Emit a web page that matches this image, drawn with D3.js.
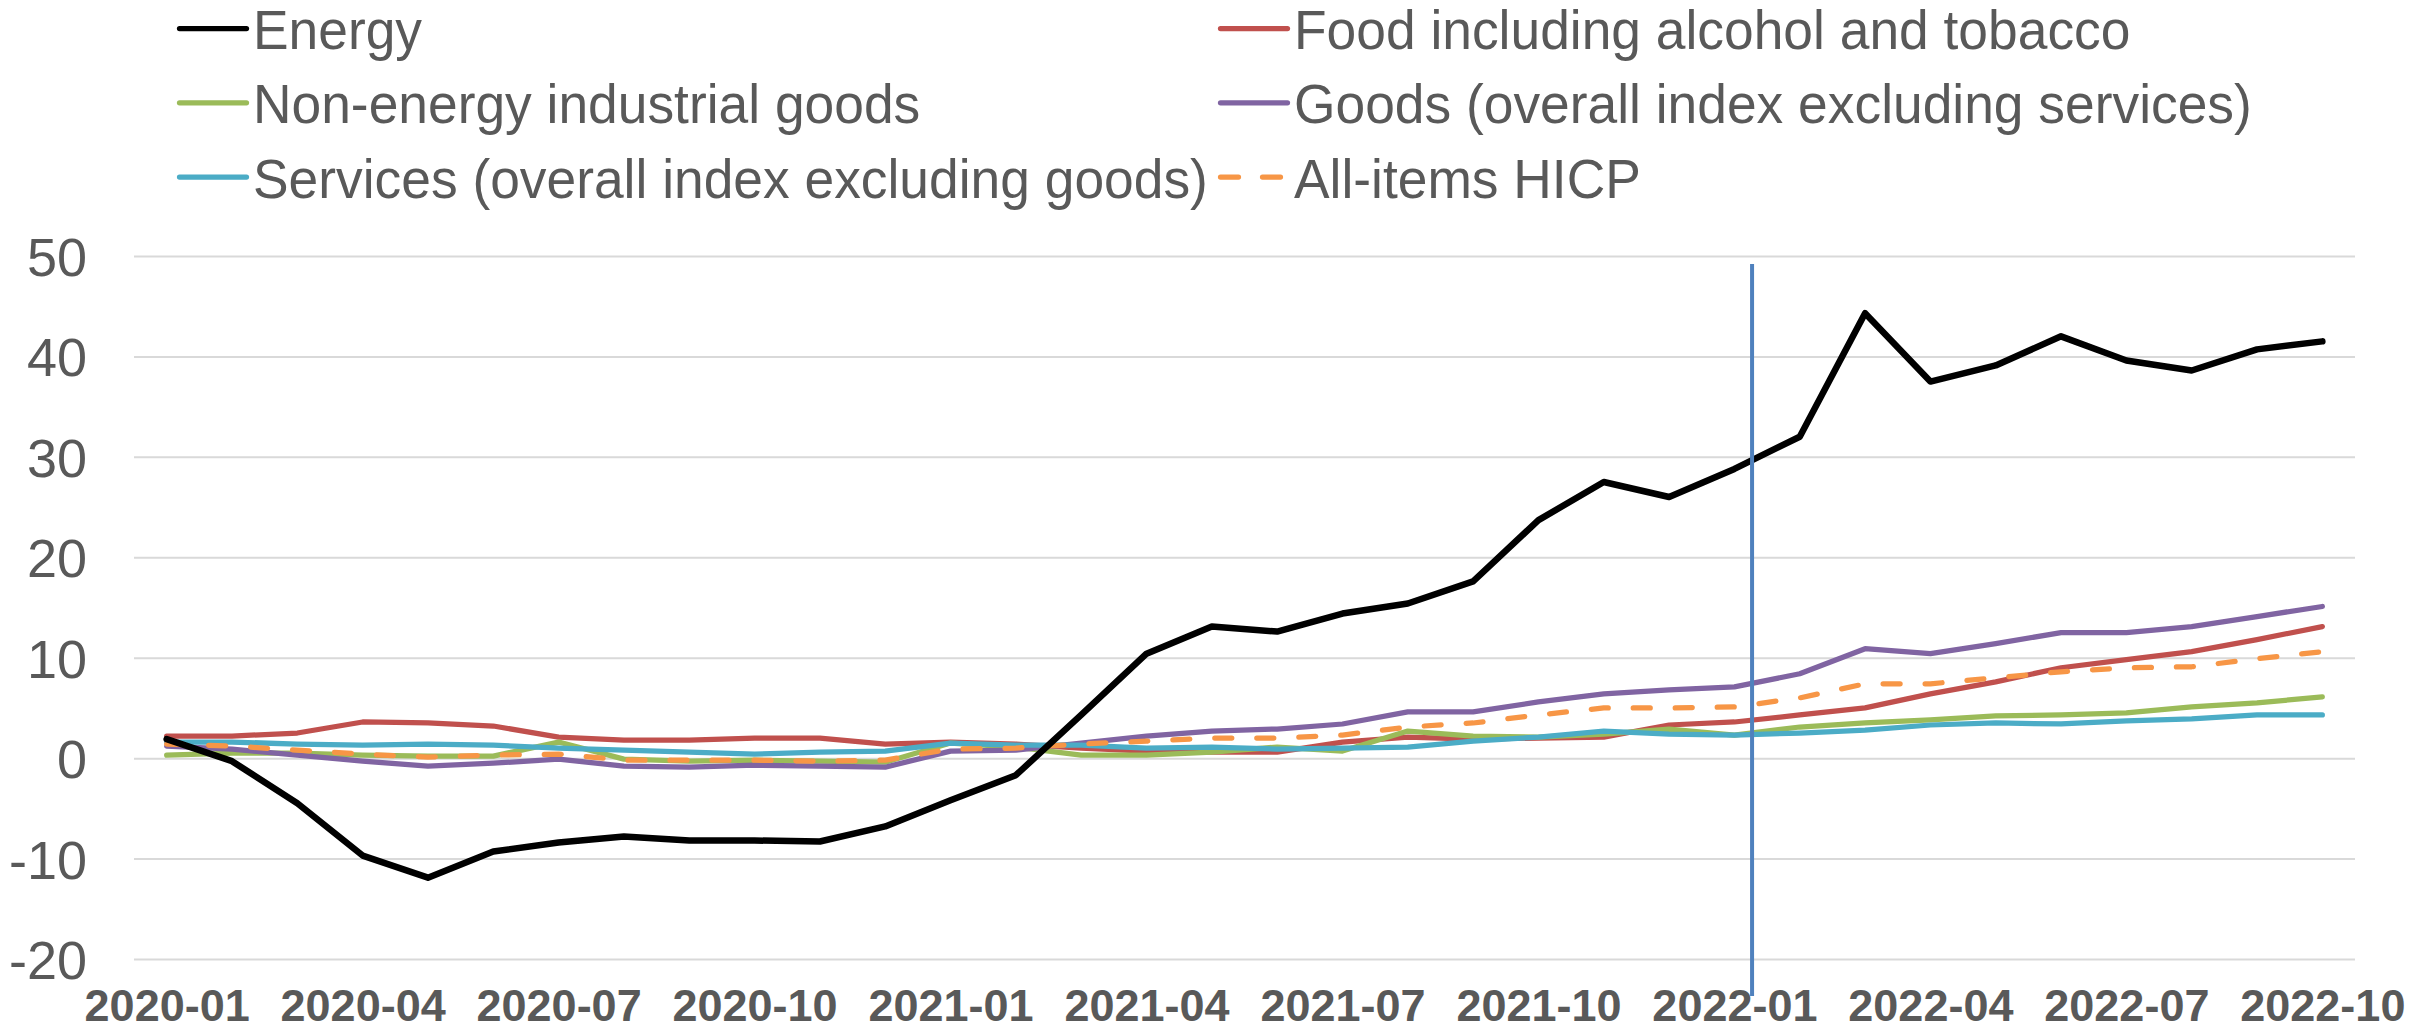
<!DOCTYPE html>
<html>
<head>
<meta charset="utf-8">
<script src="https://cdn.jsdelivr.net/npm/d3@7"></script>
<style>
  html, body { margin: 0; padding: 0; background: #fff; }
  svg { display: block; }
  text { font-family: "Liberation Sans", Arial, sans-serif; fill: #595959; }
</style>
</head>
<body>
<svg id="chart" width="2427" height="1031"></svg>
<script>
// Monthly annual rates of change (%), 2020-01 .. 2022-10
const months = [
  "2020-01","2020-02","2020-03","2020-04","2020-05","2020-06","2020-07","2020-08","2020-09","2020-10","2020-11","2020-12",
  "2021-01","2021-02","2021-03","2021-04","2021-05","2021-06","2021-07","2021-08","2021-09","2021-10","2021-11","2021-12",
  "2022-01","2022-02","2022-03","2022-04","2022-05","2022-06","2022-07","2022-08","2022-09","2022-10"
];

const energy = [1.9,-0.3,-4.5,-9.7,-11.9,-9.3,-8.4,-7.8,-8.2,-8.2,-8.3,-6.8,
  -4.2,-1.7,4.3,10.4,13.1,12.6,14.4,15.4,17.6,23.7,27.5,26.0,
  28.8,32.0,44.3,37.5,39.1,42.0,39.6,38.6,40.7,41.5];

const food = [2.2,2.2,2.5,3.6,3.5,3.2,2.1,1.8,1.8,2.0,2.0,1.4,
  1.6,1.4,1.0,0.7,0.6,0.6,1.6,2.1,1.9,2.0,2.1,3.3,
  3.6,4.3,5.0,6.4,7.6,9.0,9.8,10.6,11.8,13.1];

const nonEnergyIndustrial = [0.3,0.5,0.5,0.3,0.2,0.2,1.6,-0.1,-0.3,-0.2,-0.3,-0.4,
  1.5,1.1,0.3,0.3,0.6,1.1,0.7,2.7,2.2,2.1,2.4,2.9,
  2.3,3.1,3.5,3.8,4.2,4.3,4.5,5.1,5.5,6.1];

const goods = [1.2,0.9,0.3,-0.3,-0.8,-0.5,-0.1,-0.8,-0.9,-0.7,-0.8,-0.9,
  0.7,0.8,1.5,2.2,2.7,2.9,3.4,4.6,4.6,5.6,6.4,6.8,
  7.1,8.4,10.9,10.4,11.4,12.5,12.5,13.1,14.1,15.1];

const services = [1.6,1.6,1.4,1.3,1.4,1.3,1.0,0.8,0.6,0.4,0.6,0.7,
  1.5,1.3,1.3,1.0,1.1,0.9,1.0,1.1,1.7,2.1,2.7,2.4,
  2.3,2.5,2.8,3.3,3.5,3.4,3.7,3.9,4.3,4.3];

const hicp = [1.4,1.2,0.8,0.4,0.1,0.3,0.4,-0.2,-0.2,-0.2,-0.3,-0.2,
  0.9,1.0,1.4,1.7,2.0,2.0,2.3,3.1,3.5,4.3,5.0,5.0,
  5.1,6.0,7.4,7.4,8.0,8.6,9.0,9.1,9.9,10.6];

const yTicks = [-20,-10,0,10,20,30,40,50];
const xTickLabels = ["2020-01","2020-04","2020-07","2020-10","2021-01","2021-04",
  "2021-07","2021-10","2022-01","2022-04","2022-07","2022-10"];
const markerMonth = "2022-01";

const series = [
  { name: "Food including alcohol and tobacco", values: food, color: "#c0504d", width: 5.25 },
  { name: "Non-energy industrial goods", values: nonEnergyIndustrial, color: "#9bbb59", width: 5.25 },
  { name: "Goods (overall index excluding services)", values: goods, color: "#8064a2", width: 5.25 },
  { name: "Services (overall index excluding goods)", values: services, color: "#4bacc6", width: 5.25 },
  { name: "All-items HICP", values: hicp, color: "#f79646", width: 5.25, dash: "17 25" },
  { name: "Energy", values: energy, color: "#000000", width: 6.5 }
];

const legendOrder = ["Energy", "Food including alcohol and tobacco",
  "Non-energy industrial goods", "Goods (overall index excluding services)",
  "Services (overall index excluding goods)", "All-items HICP"];

const svg = d3.select("#chart");
const plot = { left: 134, right: 2355, top: 256, bottom: 959 };

const x = d3.scalePoint().domain(months).range([plot.left, plot.right]).padding(0.5);
const y = d3.scaleLinear().domain([-20, 50]).range([plot.bottom, plot.top]);

// Horizontal gridlines and value labels (plain hyphen for negatives)
const yAxis = d3.axisLeft(y).tickValues(yTicks)
  .tickSize(-(plot.right - plot.left)).tickPadding(47)
  .tickFormat(d => String(d));
const gy = svg.append("g").attr("transform", `translate(${plot.left},0)`).call(yAxis);
gy.select(".domain").remove();
gy.selectAll(".tick line").attr("stroke", "#d9d9d9").attr("stroke-width", 2);
gy.selectAll(".tick text")
  .attr("font-size", 54)
  .attr("dy", "0.36em")
  .style("font-family", '"Liberation Sans", Arial, sans-serif')
  .attr("fill", "#595959");

// Category labels along the bottom
const xAxis = d3.axisBottom(x).tickValues(xTickLabels).tickSize(0).tickPadding(0);
const gx = svg.append("g").attr("transform", `translate(0,1021)`).call(xAxis);
gx.select(".domain").remove();
gx.selectAll(".tick text")
  .attr("y", 0).attr("dy", 0)
  .attr("font-size", 45)
  .attr("font-weight", "bold")
  .style("font-family", '"Liberation Sans", Arial, sans-serif')
  .attr("fill", "#595959");

// Series lines
const line = d3.line().x((d, i) => x(months[i])).y(d => y(d));
svg.append("g").selectAll("path").data(series).join("path")
  .attr("d", d => line(d.values))
  .attr("fill", "none")
  .attr("stroke", d => d.color)
  .attr("stroke-width", d => d.width)
  .attr("stroke-linejoin", "round")
  .attr("stroke-linecap", "round")
  .attr("stroke-dasharray", d => d.dash || null);

// Vertical marker just after the turn of the year 2022
const markerX = x(markerMonth) + x.step() * 0.27;
svg.append("line")
  .attr("x1", markerX).attr("x2", markerX)
  .attr("y1", y(49.2)).attr("y2", 996)
  .attr("stroke", "#4f81bd").attr("stroke-width", 4);

// Legend: two columns, three rows
const legendCols = [177, 1218];
const legendRows = [49, 123.3, 197.5];
const lg = svg.append("g");
legendOrder.forEach((name, k) => {
  const s = series.find(d => d.name === name);
  const cx = legendCols[k % 2];
  const by = legendRows[Math.floor(k / 2)];
  const g = lg.append("g");
  g.append("line")
    .attr("x1", cx + 2.5).attr("x2", cx + 69.5)
    .attr("y1", by - 20.5).attr("y2", by - 20.5)
    .attr("stroke", s.color).attr("stroke-width", 5.25)
    .attr("stroke-linecap", "round")
    .attr("stroke-dasharray", s.dash ? "18 24" : null);
  const t = g.append("text")
    .attr("x", cx + 76).attr("y", by)
    .attr("font-size", 55)
    .text(name);
  // slightly narrower set width than the default face
  const w = t.node().getComputedTextLength();
  t.attr("textLength", w * 0.97).attr("lengthAdjust", "spacingAndGlyphs");
});
</script>
</body>
</html>
